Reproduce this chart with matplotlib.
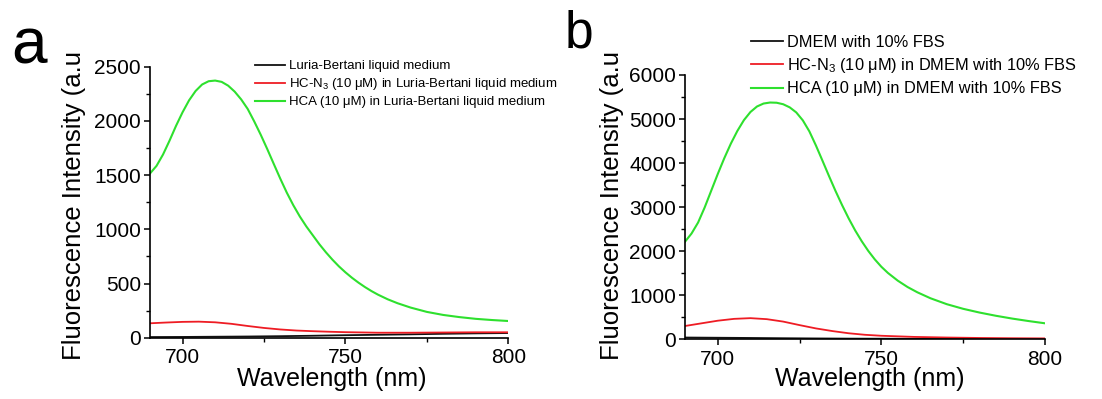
import numpy as np
import matplotlib
matplotlib.use("Agg")
import matplotlib.pyplot as plt
from matplotlib.ticker import AutoMinorLocator, MultipleLocator

plt.rcParams['font.family'] = ['Liberation Sans', 'DejaVu Sans']
plt.rcParams['mathtext.default'] = 'regular'

# ---- panel a: Luria-Bertani medium ----
wl_a = [690, 692, 694, 696, 698, 700, 702, 704, 706, 708, 710, 712, 714, 716, 718,
        720, 722, 724, 726, 728, 730, 732, 734, 736, 738, 740, 742, 744, 746, 748,
        750, 752, 754, 756, 758, 760, 763, 766, 770, 775, 780, 785, 790, 795, 800]
hca_a = [1515, 1585, 1690, 1818, 1955, 2080, 2190, 2276, 2336, 2366, 2372, 2360, 2325, 2270, 2198,
         2110, 1995, 1872, 1740, 1603, 1467, 1338, 1222, 1118, 1026, 944, 862, 788, 720, 658,
         603, 553, 508, 467, 430, 397, 354, 318, 278, 238, 210, 190, 174, 163, 154]

wl_a2 = [690, 695, 700, 705, 710, 715, 720, 725, 730, 735, 740, 745, 750, 760, 770, 780, 790, 800]
hcn3_a = [133, 140, 146, 148, 142, 128, 108, 90, 76, 66, 60, 55, 51, 46, 46, 48, 50, 50]

wl_a3 = [690, 700, 710, 720, 730, 740, 750, 760, 770, 780, 790, 800]
blank_a = [6, 7, 9, 11, 14, 18, 23, 27, 31, 36, 40, 43]

# ---- panel b: DMEM with 10% FBS ----
wl_b = [690, 692, 694, 696, 698, 700, 702, 704, 706, 708, 710, 712, 714, 716, 718,
        720, 722, 724, 726, 728, 730, 732, 734, 736, 738, 740, 742, 744, 746, 748,
        750, 752, 755, 758, 761, 765, 770, 775, 780, 785, 790, 795, 800]
hca_b = [2214, 2400, 2650, 2990, 3370, 3750, 4110, 4440, 4730, 4975, 5160, 5285, 5352, 5375, 5370,
         5336, 5265, 5150, 4970, 4720, 4400, 4055, 3705, 3365, 3045, 2745, 2470, 2225, 2005, 1812,
         1645, 1505, 1330, 1185, 1065, 930, 795, 690, 605, 532, 468, 412, 361]

wl_b2 = [690, 695, 700, 705, 710, 715, 720, 725, 730, 735, 740, 745, 750, 760, 770, 780, 790, 800]
hcn3_b = [300, 360, 420, 462, 478, 455, 400, 320, 245, 185, 135, 100, 78, 52, 38, 28, 22, 18]

wl_b3 = [690, 700, 710, 720, 730, 740, 750, 760, 770, 780, 790, 800]
blank_b = [38, 33, 28, 22, 17, 13, 11, 9, 8, 7, 6, 5]

labels_a = ['Luria-Bertani liquid medium',
            'HC-N$_3$ (10 μM) in Luria-Bertani liquid medium',
            'HCA (10 μM) in Luria-Bertani liquid medium']
labels_b = ['DMEM with 10% FBS',
            'HC-N$_3$ (10 μM) in DMEM with 10% FBS',
            'HCA (10 μM) in DMEM with 10% FBS']

c_black = '#111111'
c_red = '#ee1c24'
c_green = '#2ee02e'

W, H = 1102, 399
fig = plt.figure(figsize=(W / 100, H / 100), dpi=100)


def style(ax, ymax, ystep):
    ax.set_xlim(690, 800)
    ax.set_ylim(0, ymax)
    ax.spines['top'].set_visible(False)
    ax.spines['right'].set_visible(False)
    for s in ('left', 'bottom'):
        ax.spines[s].set_linewidth(1.2)
    ax.xaxis.set_major_locator(MultipleLocator(50))
    ax.yaxis.set_major_locator(MultipleLocator(ystep))
    ax.xaxis.set_minor_locator(AutoMinorLocator(2))
    ax.yaxis.set_minor_locator(AutoMinorLocator(2))
    ax.tick_params(which='major', direction='out', length=4.5, width=1.1, labelsize=15, pad=2)
    ax.tick_params(which='minor', direction='out', length=3, width=1.0)
    ax.tick_params(axis='x', which='major', pad=3)


# panel a
ax1 = fig.add_axes([150 / W, 1 - 337.7 / H, 358.3 / W, 271 / H])
l1, = ax1.plot(wl_a3, blank_a, color=c_black, lw=1.3)
l2, = ax1.plot(wl_a2, hcn3_a, color=c_red, lw=1.3)
l3, = ax1.plot(wl_a, hca_a, color=c_green, lw=1.5)
style(ax1, 2500, 500)
ax1.legend([l1, l2, l3], labels_a, loc='upper left', bbox_to_anchor=(255 / W, 1 - 60 / H),
           bbox_transform=fig.transFigure, frameon=False, fontsize=9.5, borderpad=0,
           borderaxespad=0, handlelength=2.3, handletextpad=0.3, labelspacing=0.3)

# panel b
ax2 = fig.add_axes([685 / W, 1 - 339.2 / H, 360 / W, 264.2 / H])
m1, = ax2.plot(wl_b3, blank_b, color=c_black, lw=1.3)
m2, = ax2.plot(wl_b2, hcn3_b, color=c_red, lw=1.3)
m3, = ax2.plot(wl_b, hca_b, color=c_green, lw=1.5)
style(ax2, 6000, 1000)
ax2.legend([m1, m2, m3], labels_b, loc='upper left', bbox_to_anchor=(751 / W, 1 - 35 / H),
           bbox_transform=fig.transFigure, frameon=False, fontsize=11.8, borderpad=0,
           borderaxespad=0, handlelength=1.95, handletextpad=0.25, labelspacing=0.38)

# axis labels
ylab = 'Fluorescence Intensity (a.u'
fig.text(74.5 / W, 1 - 360 / H, ylab, rotation=90, ha='center', va='bottom', fontsize=18.5)
fig.text(611.5 / W, 1 - 360 / H, ylab, rotation=90, ha='center', va='bottom', fontsize=18.5)
fig.text(332 / W, 1 - 386 / H, 'Wavelength (nm)', ha='center', va='baseline', fontsize=18)
fig.text(870 / W, 1 - 386 / H, 'Wavelength (nm)', ha='center', va='baseline', fontsize=18)

# panel letters
fig.text(11 / W, 1 - 63 / H, 'a', fontsize=46, va='baseline', ha='left')
fig.text(565 / W, 1 - 47 / H, 'b', fontsize=37, va='baseline', ha='left')

fig.savefig('out.png', dpi=100)
